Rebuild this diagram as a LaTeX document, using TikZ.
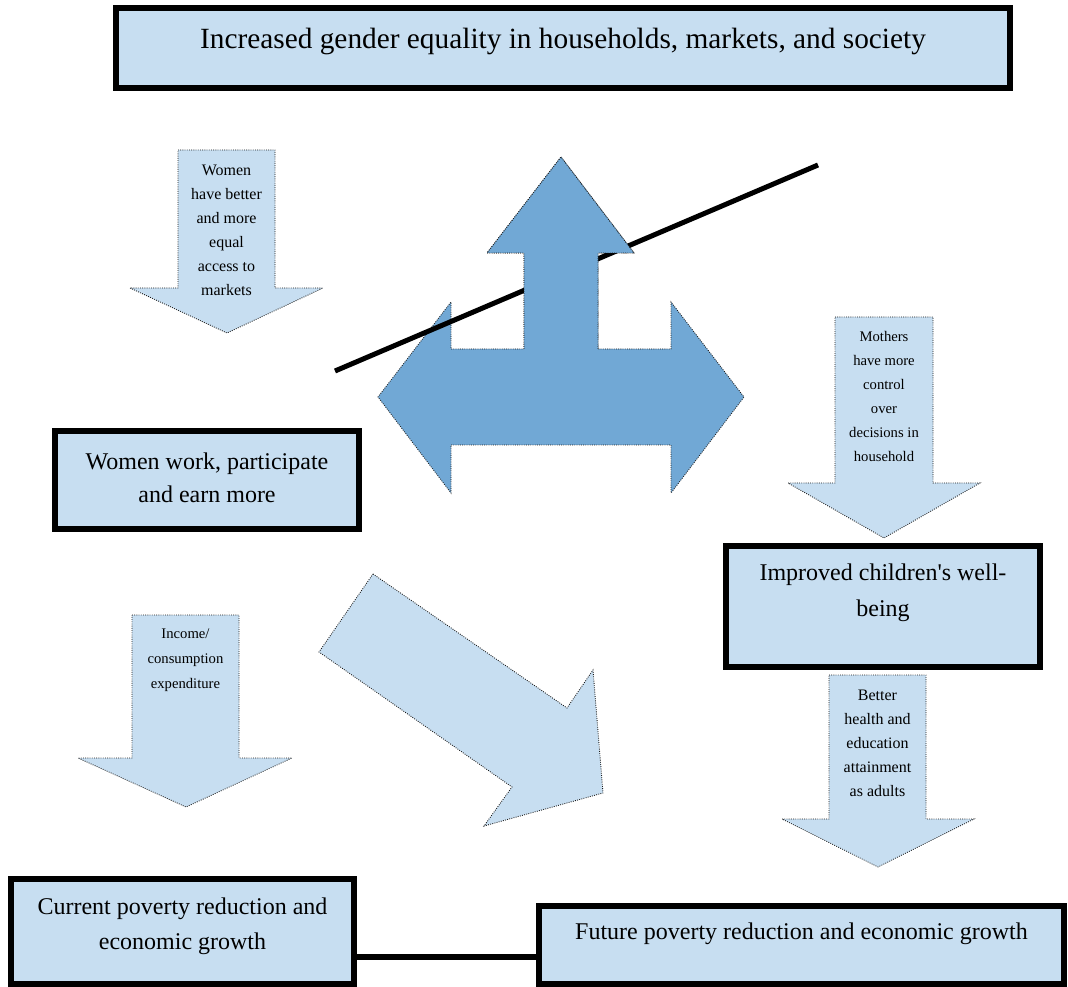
\documentclass[tikz,border=0pt]{standalone}
\usepackage{fontspec}
\setmainfont{Liberation Serif}[Ligatures=TeXOff]
\definecolor{lightfill}{RGB}{199,222,241}
\definecolor{darkfill}{RGB}{113,168,213}
\tikzset{
  bigbox/.style={draw=black, line width=4.5pt, fill=lightfill, inner sep=0pt},
  bigtext/.style={anchor=north, inner sep=0pt, align=center, font=\fontsize{18}{25}\selectfont},
  smalltext/.style={anchor=north, inner sep=0pt, align=center},
  blockarrow/.style={draw=black!90, densely dotted, line width=0.65pt, fill=lightfill},
  bigarrow/.style={draw=black!90, densely dotted, line width=0.65pt, fill=darkfill},
  conn/.style={draw=black, line width=4.5pt},
  slash/.style={draw=black, line width=3.75pt}
}
\begin{document}
\begin{tikzpicture}[x=0.75pt,y=-0.75pt]
\useasboundingbox (0,0) rectangle (1068,987);

% boxes
\node[bigbox, minimum width=670.5pt, minimum height=60pt] (title) at (563,48) {};
\node[bigtext, font=\fontsize{22}{28}\selectfont] (titletext) at (563,28) {Increased gender equality in households, markets, and society};

\node[bigbox, minimum width=228pt, minimum height=73.5pt] (work) at (207,480) {};
\node[bigtext, font=\fontsize{18}{24.75}\selectfont] (worktext) at (207,453) {Women work, participate\\and earn more};

\node[bigbox, minimum width=235.5pt, minimum height=90.75pt] (child) at (883,606.5) {};
\node[bigtext, font=\fontsize{18}{27}\selectfont] (childtext) at (883,564) {Improved children's well-\\being};

\node[bigbox, minimum width=257.25pt, minimum height=78.75pt] (cur) at (182.5,931.5) {};
\node[bigtext, font=\fontsize{18}{26.25}\selectfont] (curtext) at (182.5,898) {Current poverty reduction and\\economic growth};

\node[bigbox, minimum width=393.75pt, minimum height=58.5pt] (fut) at (801.5,945) {};
\node[bigtext] (futtext) at (801.5,923) {Future poverty reduction and economic growth};

\coordinate (lk) at (0,957);
\draw[conn] (cur.east |- lk) -- (fut.west |- lk);

% down arrow 1
\draw[blockarrow] (178,150) -- (275,150) -- (275,288) -- (323,288) -- (227,333) -- (130,288) -- (178,288) -- cycle;
\node[smalltext, font=\fontsize{12}{18}\selectfont] (a1) at (226.5,165) {Women\\have better\\and more\\equal\\access to\\markets};

% down arrow 2
\draw[blockarrow] (835,317) -- (933,317) -- (933,483) -- (980,483) -- (884,538) -- (788,483) -- (835,483) -- cycle;
\node[smalltext, font=\fontsize{11}{18}\selectfont] (a2) at (884,331) {Mothers\\have more\\control\\over\\decisions in\\household};

% down arrow 3
\draw[blockarrow] (132,615) -- (239,615) -- (239,758) -- (292,758) -- (186,807) -- (78,758) -- (132,758) -- cycle;
\node[smalltext, font=\fontsize{11}{18.75}\selectfont] (a3) at (185.5,629) {Income/\\consumption\\expenditure};

% down arrow 4
\draw[blockarrow] (829,675) -- (926,675) -- (926,819) -- (974,819) -- (878,867) -- (782,819) -- (829,819) -- cycle;
\node[smalltext, font=\fontsize{12}{18}\selectfont] (a4) at (877.5,690) {Better\\health and\\education\\attainment\\as adults};

% diagonal arrow
\draw[blockarrow] (373,574) -- (567,708) -- (593,670) -- (603,793) -- (484,826) -- (512,787) -- (319,652) -- cycle;

% big three-way arrow
\draw[bigarrow] (561,157) -- (634,253) -- (598,253) -- (598,349) -- (671,349) -- (671,302) -- (744,397) -- (671,493) -- (671,445) -- (451,445) -- (451,493) -- (378,397) -- (451,302) -- (451,349) -- (524,349) -- (524,253) -- (487,253) -- cycle;

% slanted line
\coordinate (l1) at (335,371);
\coordinate (l2) at (818,165);
\draw[slash] (l1) -- (l2);

% up arrow redrawn on top of the line
\fill[darkfill] (561,157) -- (634,253) -- (598,253) -- (598,350) -- (524,350) -- (524,253) -- (487,253) -- cycle;
\draw[draw=black!90, densely dotted, line width=0.65pt] (524,349) -- (524,253) -- (487,253) -- (561,157) -- (634,253) -- (598,253) -- (598,349);
\end{tikzpicture}
\end{document}
